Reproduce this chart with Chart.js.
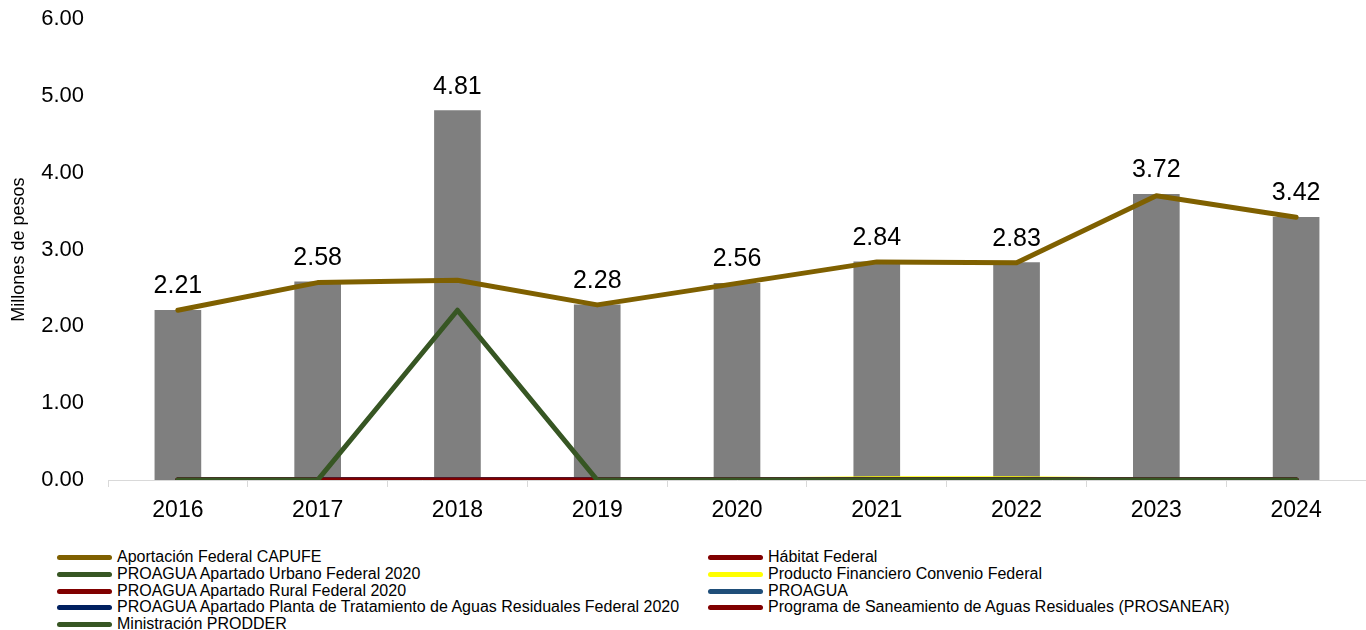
<!DOCTYPE html>
<html lang="es">
<head>
<meta charset="UTF-8">
<title>Millones de pesos</title>
<script src="https://cdn.jsdelivr.net/npm/chart.js@4.4.0/dist/chart.umd.min.js"></script>
<style>
    body { margin: 0; background: #ffffff; font-family: "Liberation Sans", Arial, sans-serif; }
    #contenedor { position: relative; width: 1366px; height: 630px; overflow: hidden; }
    #myChart { position: absolute; left: 0; top: -10px; }
    .leyenda-item { position: absolute; height: 17px; display: flex; align-items: center; font-size: 16px; color: #000; white-space: nowrap; }
    .leyenda-linea { width: 55px; height: 5px; border-radius: 3px; margin-right: 5px; }
</style>
</head>
<body>
<div id="contenedor">
    <canvas id="myChart" width="1366" height="540"></canvas>
</div>
<script>
// datos
const anios = ['2016', '2017', '2018', '2019', '2020', '2021', '2022', '2023', '2024'];
const totales = [2.21, 2.58, 4.81, 2.28, 2.56, 2.84, 2.83, 3.72, 3.42];

const capufe = [2.21, 2.57, 2.60, 2.28, 2.56, 2.84, 2.83, 3.70, 3.42];
const habitat = [0, 0, 0, 0, 0, 0, 0, 0, 0];
const proaguaUrbano = [0, 0, 0, 0, 0, 0, 0, 0, 0];
const productoFinanciero = [0, 0, 0, 0, 0, 0.015, 0.015, 0, 0];
const proaguaRural = [0, 0, 0, 0, 0, 0, 0, 0, 0];
const proagua = [0, 0, 0, 0, 0, 0, 0, 0, 0];
const proaguaPlanta = [0, 0, 0, 0, 0, 0, 0, 0, 0];
const prosanear = [0, 0, 0, 0, 0, 0, 0, 0, 0];
const prodder = [0, 0, 2.21, 0, 0, 0, 0, 0, 0];

const ticksY = [0, 1, 2, 3, 4, 5, 6];

// series de lineas (orden de la leyenda de Excel)
const series = [
    { label: 'Aportación Federal CAPUFE', data: capufe, color: '#7F6000', orden: 0 },
    { label: 'Hábitat Federal', data: habitat, color: '#800000', orden: 8 },
    { label: 'PROAGUA Apartado Urbano Federal 2020', data: proaguaUrbano, color: '#375623', orden: 7 },
    { label: 'Producto Financiero Convenio Federal', data: productoFinanciero, color: '#FFFF00', orden: 9 },
    { label: 'PROAGUA Apartado Rural Federal 2020', data: proaguaRural, color: '#800000', orden: 6 },
    { label: 'PROAGUA', data: proagua, color: '#1F4E79', orden: 5 },
    { label: 'PROAGUA Apartado Planta de Tratamiento de Aguas Residuales Federal 2020', data: proaguaPlanta, color: '#002060', orden: 4 },
    { label: 'Programa de Saneamiento de Aguas Residuales (PROSANEAR)', data: prosanear, color: '#800000', orden: 2 },
    { label: 'Ministración PRODDER', data: prodder, color: '#375623', orden: 1 }
];

// etiquetas encima de las barras
const etiquetasBarras = {
    id: 'etiquetasBarras',
    afterDatasetsDraw(chart) {
        const ctx = chart.ctx;
        const meta = chart.getDatasetMeta(0);
        ctx.save();
        ctx.font = '25px "Liberation Sans", Arial, sans-serif';
        ctx.fillStyle = '#000000';
        ctx.textAlign = 'center';
        ctx.textBaseline = 'alphabetic';
        meta.data.forEach((barra, i) => {
            ctx.fillText(totales[i].toFixed(2), barra.x, barra.y - 17);
        });
        ctx.restore();
    }
};

const datasetsLineas = series.map(s => ({
    type: 'line',
    label: s.label,
    data: s.data,
    borderColor: s.color,
    backgroundColor: s.color,
    borderWidth: 5,
    pointRadius: 0,
    tension: 0,
    fill: false,
    borderCapStyle: 'round',
    borderJoinStyle: 'round',
    order: s.orden
}));

const ctx = document.getElementById('myChart').getContext('2d');
new Chart(ctx, {
    type: 'bar',
    data: {
        labels: anios,
        datasets: [
            {
                type: 'bar',
                label: 'Total',
                data: totales,
                backgroundColor: '#7F7F7F',
                barThickness: 46,
                order: 20
            },
            ...datasetsLineas
        ]
    },
    options: {
        responsive: false,
        animation: false,
        layout: { padding: { top: 0, right: 0, bottom: 0, left: 0 } },
        plugins: {
            legend: { display: false },
            tooltip: { enabled: false }
        },
        scales: {
            x: {
                offset: true,
                grid: {
                    display: true,
                    drawOnChartArea: false,
                    drawTicks: true,
                    tickLength: 7,
                    color: '#D9D9D9',
                    offset: true
                },
                border: { display: true, color: '#D9D9D9', width: 1 },
                ticks: {
                    color: '#000000',
                    padding: 10,
                    font: { family: '"Liberation Sans", Arial, sans-serif', size: 23 }
                },
                afterFit(scale) { scale.height = 50; }
            },
            y: {
                min: 0,
                max: 6,
                afterBuildTicks(scale) { scale.ticks = ticksY.map(v => ({ value: v })); },
                grid: { display: false },
                border: { display: false },
                ticks: {
                    color: '#000000',
                    padding: 16,
                    font: { family: '"Liberation Sans", Arial, sans-serif', size: 22 },
                    callback: v => v.toFixed(2)
                },
                title: {
                    display: true,
                    text: 'Millones de pesos',
                    color: '#000000',
                    padding: { top: 8, bottom: 0 },
                    font: { family: '"Liberation Sans", Arial, sans-serif', size: 18 }
                },
                afterFit(scale) { scale.width = 108; }
            }
        }
    },
    plugins: [etiquetasBarras]
});

// leyenda en dos columnas
const contenedor = document.getElementById('contenedor');
const filasY = [557, 574, 591, 607, 624];
series.forEach((s, i) => {
    const columna = i % 2;
    const fila = Math.floor(i / 2);
    const item = document.createElement('div');
    item.className = 'leyenda-item';
    item.style.left = (columna === 0 ? 57 : 708) + 'px';
    item.style.top = (filasY[fila] - 8.5) + 'px';
    const linea = document.createElement('span');
    linea.className = 'leyenda-linea';
    linea.style.background = s.color;
    const texto = document.createElement('span');
    texto.textContent = s.label;
    item.appendChild(linea);
    item.appendChild(texto);
    contenedor.appendChild(item);
});
</script>
</body>
</html>
